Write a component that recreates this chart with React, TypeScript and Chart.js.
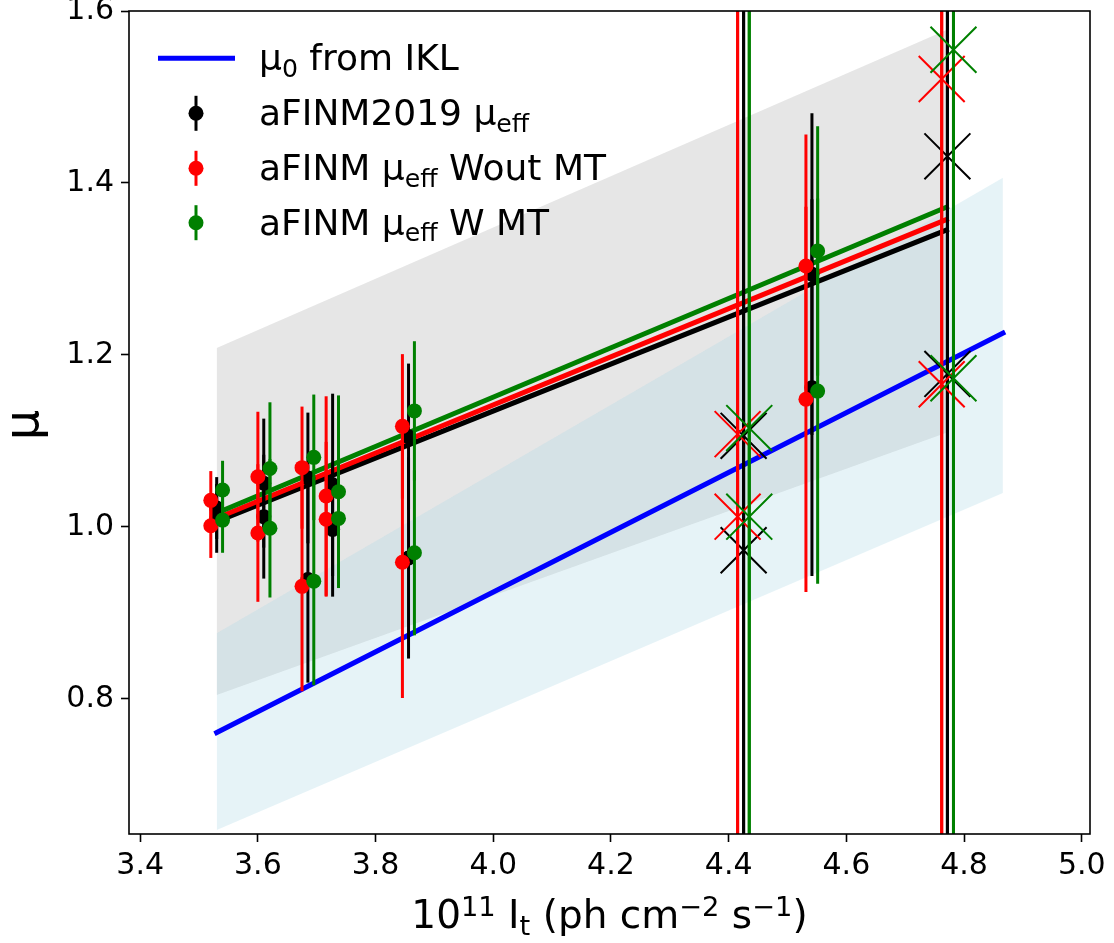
import React, { useEffect, useRef } from 'react';
import { Chart, registerables } from 'chart.js';

Chart.register(...registerables);

// ---------- data ----------
const X_TICKS = [3.4, 3.6, 3.8, 4.0, 4.2, 4.4, 4.6, 4.8, 5.0];
const Y_TICKS = [0.8, 1.0, 1.2, 1.4, 1.6];

// aFINM2019 mu_eff (black)
const blackX = [3.530, 3.530, 3.610, 3.610, 3.685, 3.685, 3.727, 3.727, 3.856, 3.856, 4.5415, 4.5415];
const blackY = [1.022, 1.010, 1.051, 1.012, 1.057, 0.939, 1.049, 0.997, 1.105, 0.964, 1.294, 1.162];
const blackErr = [0.036, 0.040, 0.075, 0.072, 0.076, 0.120, 0.106, 0.078, 0.085, 0.117, 0.187, 0.219];
const blackCrossX = [4.4254, 4.4254, 4.7717, 4.7717];
const blackCrossY = [1.106, 0.973, 1.431, 1.178];
const blackCrossErr = [3, 3, 3, 3];

// aFINM mu_eff Wout MT (red)
const redX = [3.520, 3.520, 3.600, 3.600, 3.675, 3.675, 3.716, 3.716, 3.8456, 3.8456, 4.5313, 4.5313];
const redY = [1.031, 1.0015, 1.0585, 0.993, 1.069, 0.931, 1.036, 1.009, 1.117, 0.959, 1.3035, 1.1485];
const redErr = [0.034, 0.0375, 0.0755, 0.080, 0.071, 0.122, 0.116, 0.090, 0.084, 0.158, 0.153, 0.224];
const redCrossX = [4.4152, 4.4152, 4.762, 4.762];
const redCrossY = [1.108, 1.012, 1.521, 1.166];
const redCrossErr = [3, 3, 3, 3];

// aFINM mu_eff W MT (green)
const greenX = [3.540, 3.540, 3.6205, 3.6205, 3.695, 3.695, 3.737, 3.737, 3.866, 3.866, 4.5512, 4.5512];
const greenY = [1.043, 1.008, 1.068, 0.9985, 1.081, 0.937, 1.041, 1.010, 1.135, 0.970, 1.321, 1.158];
const greenErr = [0.034, 0.038, 0.077, 0.0805, 0.073, 0.121, 0.112, 0.079, 0.081, 0.096, 0.145, 0.224];
const greenCrossX = [4.435, 4.435, 4.782, 4.782];
const greenCrossY = [1.115, 1.012, 1.555, 1.173];
const greenCrossErr = [3, 3, 3, 3];

// fit lines
const fitX = [3.525, 4.77];
const blackFitY = [1.005, 1.3453];
const redFitY = [1.0089, 1.3575];
const greenFitY = [1.0148, 1.3718];

// mu_0 from IKL
const iklX = [3.53, 4.866];
const iklY = [0.761, 1.2255];

// bands
const grayBandX = [3.53, 4.77];
const grayUpper = [1.208, 1.578];
const grayLower = [0.8047, 1.1097];
const blueBandX = [3.53, 4.866];
const blueUpper = [0.8764, 1.4062];
const blueLower = [0.6477, 1.0395];

const X_MIN = 3.381, X_MAX = 5.014;
const Y_MIN = 0.643, Y_MAX = 1.6;

const FONT = '"DejaVu Sans"';
const BLACK = '#000000', RED = '#ff0000', GREEN = '#008000', BLUE = '#0000ff';

const pts = (xs: number[], ys: number[]) => xs.map((x, i) => ({ x, y: ys[i] }));

type Seg = { t: string; s?: number; dy?: number };
function drawRich(ctx: CanvasRenderingContext2D, segs: Seg[], x: number, y: number, size: number, align: 'left' | 'center') {
  const widths = segs.map((sg) => {
    ctx.font = `${size * (sg.s ?? 1)}px ${FONT}`;
    return ctx.measureText(sg.t).width;
  });
  const total = widths.reduce((a, b) => a + b, 0);
  let cx = align === 'center' ? x - total / 2 : x;
  ctx.textAlign = 'left';
  ctx.textBaseline = 'alphabetic';
  segs.forEach((sg, i) => {
    ctx.font = `${size * (sg.s ?? 1)}px ${FONT}`;
    ctx.fillText(sg.t, cx, y + (sg.dy ?? 0) * size);
    cx += widths[i];
  });
}

const errorBarPlugin = {
  id: 'errbars',
  beforeDatasetDraw(chart: any, args: any) {
    const ds = chart.data.datasets[args.index];
    if (!ds.errors) return;
    const xs = chart.scales.x, ys = chart.scales.y;
    const ctx = chart.ctx as CanvasRenderingContext2D;
    const a = chart.chartArea;
    ctx.save();
    ctx.beginPath();
    ctx.rect(a.left, a.top, a.right - a.left, a.bottom - a.top);
    ctx.clip();
    ctx.strokeStyle = ds.errColor;
    ctx.lineWidth = 3;
    ds.data.forEach((p: any, i: number) => {
      const e = ds.errors[i];
      const px = xs.getPixelForValue(p.x);
      ctx.beginPath();
      ctx.moveTo(px, ys.getPixelForValue(p.y - e));
      ctx.lineTo(px, ys.getPixelForValue(p.y + e));
      ctx.stroke();
    });
    ctx.restore();
  },
};

const decorPlugin = {
  id: 'decor',
  afterDraw(chart: any) {
    const ctx = chart.ctx as CanvasRenderingContext2D;
    const a = chart.chartArea;
    ctx.save();
    // spines
    ctx.strokeStyle = '#000';
    ctx.lineWidth = 1.6;
    ctx.strokeRect(a.left, a.top, a.right - a.left, a.bottom - a.top);

    // legend
    ctx.fillStyle = '#000';
    const rows = [58.3, 113.3, 168.3, 222.7];
    const tx = 259;
    const fs = 36;
    ctx.strokeStyle = BLUE;
    ctx.lineWidth = 5;
    ctx.beginPath();
    ctx.moveTo(158, rows[0]);
    ctx.lineTo(235, rows[0]);
    ctx.stroke();
    const markers = [BLACK, RED, GREEN];
    markers.forEach((c, i) => {
      const ry = rows[i + 1];
      ctx.strokeStyle = c;
      ctx.fillStyle = c;
      ctx.lineWidth = 3;
      ctx.beginPath();
      ctx.moveTo(196, ry - 17.5);
      ctx.lineTo(196, ry + 17.5);
      ctx.stroke();
      ctx.beginPath();
      ctx.arc(196, ry, 7.5, 0, Math.PI * 2);
      ctx.fill();
    });
    ctx.fillStyle = '#000';
    drawRich(ctx, [{ t: 'μ' }, { t: '0', s: 0.7, dy: 0.18 }, { t: ' from IKL' }], tx, rows[0] + 12, fs, 'left');
    drawRich(ctx, [{ t: 'aFINM2019 μ' }, { t: 'eff', s: 0.7, dy: 0.18 }], tx, rows[1] + 12, fs, 'left');
    drawRich(ctx, [{ t: 'aFINM μ' }, { t: 'eff', s: 0.7, dy: 0.18 }, { t: ' Wout MT' }], tx, rows[2] + 12, fs, 'left');
    drawRich(ctx, [{ t: 'aFINM μ' }, { t: 'eff', s: 0.7, dy: 0.18 }, { t: ' W MT' }], tx, rows[3] + 12, fs, 'left');

    // x title
    drawRich(
      ctx,
      [
        { t: '10' },
        { t: '11', s: 0.7, dy: -0.3 },
        { t: ' I' },
        { t: 't', s: 0.7, dy: 0.18 },
        { t: ' (ph cm' },
        { t: '−2', s: 0.7, dy: -0.3 },
        { t: ' s' },
        { t: '−1', s: 0.7, dy: -0.3 },
        { t: ')' },
      ],
      (a.left + a.right) / 2,
      928,
      39,
      'center'
    );

    // y title
    ctx.save();
    ctx.translate(38, 425);
    ctx.rotate(-Math.PI / 2);
    ctx.font = `48px ${FONT}`;
    ctx.textAlign = 'center';
    ctx.textBaseline = 'alphabetic';
    ctx.fillText('μ', 0, 0);
    ctx.restore();

    ctx.restore();
  },
};

export default function App() {
  const ref = useRef<HTMLCanvasElement>(null);
  useEffect(() => {
    document.body.style.margin = '0';
    const lineDs = (xs: number[], ys: number[], color: string, order: number) => ({
      data: pts(xs, ys),
      showLine: true,
      borderColor: color,
      borderWidth: 5,
      borderCapStyle: 'square',
      pointRadius: 0,
      order,
    });
    const pointDs = (xs: number[], ys: number[], errs: number[], color: string, order: number) => ({
      data: pts(xs, ys),
      showLine: false,
      pointStyle: 'circle',
      pointRadius: 7.5,
      backgroundColor: color,
      borderColor: color,
      borderWidth: 0,
      errors: errs,
      errColor: color,
      order,
    });
    const crossDs = (xs: number[], ys: number[], errs: number[], color: string, order: number) => ({
      data: pts(xs, ys),
      showLine: false,
      pointStyle: 'crossRot',
      pointRadius: 32.5,
      backgroundColor: color,
      borderColor: color,
      borderWidth: 2,
      errors: errs,
      errColor: color,
      order,
    });
    const tickGrid = {
      display: true,
      drawOnChartArea: false,
      drawTicks: true,
      tickLength: 8,
      tickWidth: 1.6,
      tickColor: '#000',
    };
    const chart = new Chart(ref.current as HTMLCanvasElement, {
      type: 'scatter',
      data: {
        datasets: [
          {
            data: pts(grayBandX, grayUpper),
            showLine: true,
            borderColor: 'rgba(0,0,0,0)',
            pointRadius: 0,
            fill: '+1',
            backgroundColor: 'rgba(128,128,128,0.2)',
            order: 100,
          },
          { data: pts(grayBandX, grayLower), showLine: true, borderColor: 'rgba(0,0,0,0)', pointRadius: 0, order: 99 },
          {
            data: pts(blueBandX, blueUpper),
            showLine: true,
            borderColor: 'rgba(0,0,0,0)',
            pointRadius: 0,
            fill: '+1',
            backgroundColor: 'rgba(173,216,230,0.3)',
            order: 98,
          },
          { data: pts(blueBandX, blueLower), showLine: true, borderColor: 'rgba(0,0,0,0)', pointRadius: 0, order: 97 },
          lineDs(iklX, iklY, BLUE, 90),
          lineDs(fitX, blackFitY, BLACK, 80),
          lineDs(fitX, redFitY, RED, 79),
          lineDs(fitX, greenFitY, GREEN, 78),
          pointDs(blackX, blackY, blackErr, BLACK, 70),
          pointDs(redX, redY, redErr, RED, 69),
          pointDs(greenX, greenY, greenErr, GREEN, 68),
          crossDs(blackCrossX, blackCrossY, blackCrossErr, BLACK, 60),
          crossDs(redCrossX, redCrossY, redCrossErr, RED, 59),
          crossDs(greenCrossX, greenCrossY, greenCrossErr, GREEN, 58),
        ] as any,
      },
      options: {
        animation: false,
        responsive: false,
        devicePixelRatio: 1,
        layout: { autoPadding: false, padding: { left: 0, right: 24, top: 11, bottom: 0 } },
        plugins: { legend: { display: false }, tooltip: { enabled: false } },
        scales: {
          x: {
            type: 'linear',
            min: X_MIN,
            max: X_MAX,
            afterBuildTicks: (s: any) => {
              s.ticks = X_TICKS.map((v) => ({ value: v }));
            },
            afterFit: (s: any) => {
              s.height = 109;
              s.paddingLeft = 0;
              s.paddingRight = 0;
            },
            grid: tickGrid,
            border: { display: false },
            ticks: {
              autoSkip: false,
              maxRotation: 0,
              padding: 6,
              color: '#000',
              font: { family: 'DejaVu Sans', size: 30 },
              callback: (v: any) => Number(v).toFixed(1),
            },
          },
          y: {
            type: 'linear',
            min: Y_MIN,
            max: Y_MAX,
            afterBuildTicks: (s: any) => {
              s.ticks = Y_TICKS.map((v) => ({ value: v }));
            },
            afterFit: (s: any) => {
              s.width = 129;
              s.paddingTop = 0;
              s.paddingBottom = 0;
            },
            grid: tickGrid,
            border: { display: false },
            ticks: {
              autoSkip: false,
              padding: 7,
              color: '#000',
              font: { family: 'DejaVu Sans', size: 30 },
              callback: (v: any) => Number(v).toFixed(1),
            },
          },
        },
      } as any,
      plugins: [errorBarPlugin, decorPlugin],
    });
    return () => chart.destroy();
  }, []);
  return (
    <div style={{ position: 'absolute', left: 0, top: 0, width: 1114, height: 943, background: '#fff' }}>
      <canvas ref={ref} width={1114} height={943} style={{ display: 'block' }} />
    </div>
  );
}
